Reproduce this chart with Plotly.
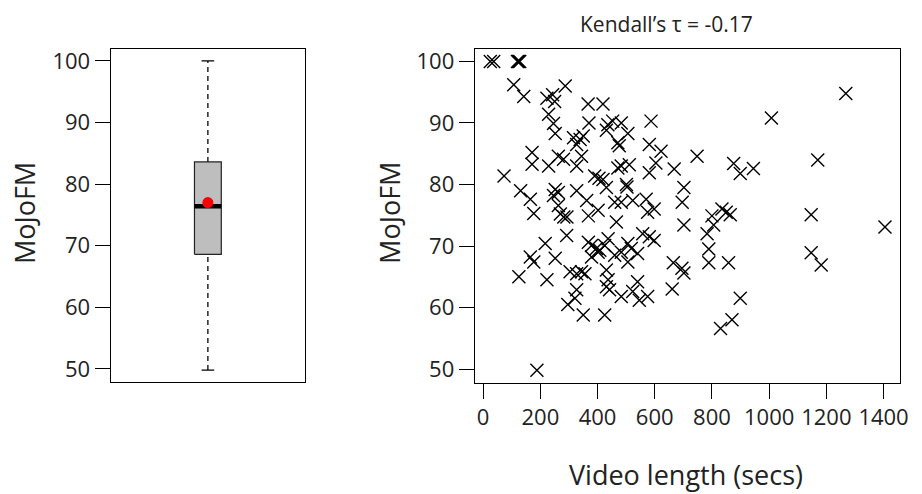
import plotly.graph_objects as go

# ---- data ----
video_len = [25, 37, 120, 124, 128, 107, 142, 287, 223, 243, 250, 367, 419, 229, 246, 252,
             370, 436, 453, 483, 431, 506, 587, 316, 339, 350, 327, 471, 476, 581, 622,
             171, 171, 229, 263, 281, 344, 327, 390, 405, 419, 471, 483, 511, 501, 503,
             581, 604, 668, 73, 131, 165, 177, 246, 252, 263, 263, 270, 282, 293, 327,
             362, 368, 402, 431, 460, 483, 523, 570, 575, 598, 702, 696, 466, 702, 217,
             292, 368, 379, 396, 408, 425, 437, 379, 402, 506, 518, 540, 558, 581, 598,
             506, 460, 483, 165, 177, 252, 125, 223, 304, 327, 344, 356, 431, 437, 431,
             442, 483, 540, 523, 546, 575, 665, 661, 695, 702, 327, 321, 296, 350, 425,
             188, 1268, 1008, 748, 1170, 876, 899, 945, 800, 835, 864, 850, 806, 783,
             789, 789, 858, 1147, 1405, 1147, 1182, 899, 870, 830]
mojofm = [100, 100, 100, 100, 100, 96.2, 94.3, 96.0, 94.0, 94.6, 93.5, 93.1, 93.1, 91.4, 89.9, 88.3,
          90.0, 89.7, 90.3, 90.0, 88.8, 88.3, 90.3, 87.6, 87.3, 87.9, 86.5, 86.8, 86.3, 86.5, 85.4,
          85.2, 83.3, 83.0, 84.6, 84.1, 84.6, 83.0, 81.4, 81.0, 80.8, 82.7, 83.0, 83.2, 80.0, 79.6,
          81.9, 83.5, 82.5, 81.4, 79.0, 77.6, 75.3, 78.2, 79.2, 78.7, 76.6, 75.2, 74.7, 74.7, 79.0,
          77.4, 74.9, 75.8, 79.5, 77.1, 77.1, 77.4, 77.6, 75.5, 76.0, 79.5, 77.1, 73.9, 73.4, 70.4,
          71.7, 70.6, 70.1, 69.6, 69.3, 70.1, 71.2, 68.2, 69.0, 70.4, 69.6, 68.8, 72.0, 71.5, 70.9,
          67.4, 68.5, 69.0, 68.2, 67.4, 68.0, 65.0, 64.5, 65.8, 65.5, 65.8, 65.5, 66.1, 64.5, 63.4,
          62.9, 61.8, 64.2, 62.6, 61.2, 61.8, 67.3, 63.0, 66.4, 65.6, 62.9, 61.5, 60.5, 58.8, 58.8,
          49.8, 94.8, 90.8, 84.6, 84.0, 83.4, 81.8, 82.6, 74.9, 76.0, 75.1, 75.5, 73.4, 72.0,
          69.5, 67.3, 67.3, 75.1, 73.1, 68.9, 66.9, 61.5, 58.0, 56.6]

# box-plot summary of MoJoFM: lower whisker, Q1, median, Q3, upper whisker, mean
box_stats = {"lower": 49.8, "q1": 68.6, "median": 76.4, "q3": 83.6, "upper": 100.0, "mean": 77.0}

y_ticks = [50, 60, 70, 80, 90, 100]
x_ticks = [0, 200, 400, 600, 800, 1000, 1200, 1400]
title_text = "Kendall’s τ = -0.17"
y_title = "MoJoFM"
x_title = "Video length (secs)"

FONT = "Open Sans"
TXT = "#222222"

fig = go.Figure()

bw = 0.138   # box half width (axis units)
cw = 0.065   # staple half width
s = box_stats
line_col = "#222222"

# whiskers (dashed)
fig.add_trace(go.Scatter(x=[0, 0], y=[s["q3"], s["upper"]], mode="lines",
                         line=dict(color="black", width=1.3, dash="5px,4px"),
                         xaxis="x", yaxis="y", hoverinfo="skip"))
fig.add_trace(go.Scatter(x=[0, 0], y=[s["lower"], s["q1"]], mode="lines",
                         line=dict(color="black", width=1.3, dash="5px,4px"),
                         xaxis="x", yaxis="y", hoverinfo="skip"))
# staples
for v in (s["lower"], s["upper"]):
    fig.add_trace(go.Scatter(x=[-cw, cw], y=[v, v], mode="lines",
                             line=dict(color="black", width=1.3),
                             xaxis="x", yaxis="y", hoverinfo="skip"))
# box
fig.add_trace(go.Scatter(x=[-bw, bw, bw, -bw, -bw],
                         y=[s["q1"], s["q1"], s["q3"], s["q3"], s["q1"]],
                         mode="lines", fill="toself", fillcolor="#bebebe",
                         line=dict(color=line_col, width=1.2),
                         xaxis="x", yaxis="y", hoverinfo="skip"))
# median
fig.add_trace(go.Scatter(x=[-bw, bw], y=[s["median"], s["median"]], mode="lines",
                         line=dict(color="black", width=4.5),
                         xaxis="x", yaxis="y", hoverinfo="skip"))
# mean
fig.add_trace(go.Scatter(x=[0], y=[s["mean"]], mode="markers",
                         marker=dict(color="#ff0000", size=11),
                         xaxis="x", yaxis="y"))

# scatter
fig.add_trace(go.Scatter(x=video_len, y=mojofm, mode="markers",
                         marker=dict(symbol="x-thin", size=13,
                                     line=dict(color="black", width=1.4)),
                         xaxis="x2", yaxis="y2"))

W, H = 922, 494
def px(v): return v / W
def py(v): return 1 - v / H

axis_common = dict(showline=True, mirror=True, linecolor="black", linewidth=1.3,
                   showgrid=False, zeroline=False,
                   tickfont=dict(family=FONT, size=22, color=TXT))

def ann(text, x, y, size, angle=0):
    return dict(text=text, x=px(x), y=py(y), xref="paper", yref="paper",
                xanchor="center", yanchor="middle", textangle=angle,
                showarrow=False, font=dict(family=FONT, size=size, color=TXT))

fig.update_layout(
    width=W, height=H,
    margin=dict(l=0, r=0, t=0, b=0),
    paper_bgcolor="white", plot_bgcolor="white",
    showlegend=False,
    xaxis=dict(domain=[px(111.7), px(307.7)], range=[-1, 1], showticklabels=False,
               ticks="", **axis_common),
    yaxis=dict(domain=[py(381.5), py(45)], range=[47.8, 102.0], tickvals=y_ticks,
               ticks="outside", ticklen=15, tickwidth=1.3, tickcolor="black",
               **axis_common),
    xaxis2=dict(domain=[px(479), px(908.3)], range=[-29, 1459], tickvals=x_ticks,
                ticks="outside", ticklen=15, tickwidth=1.3, tickcolor="black",
                anchor="y2", **axis_common),
    yaxis2=dict(domain=[py(381.7), py(45.5)], range=[47.8, 102.0], tickvals=y_ticks,
                ticks="outside", ticklen=15, tickwidth=1.3, tickcolor="black",
                anchor="x2", **axis_common),
    annotations=[
        ann(title_text, 672, 20, 21),
        ann(y_title, 24, 211, 27, -90),
        ann(y_title, 393, 211, 27, -90),
        ann(x_title, 692, 474, 27),
    ],
)

fig.write_html("out.html")
